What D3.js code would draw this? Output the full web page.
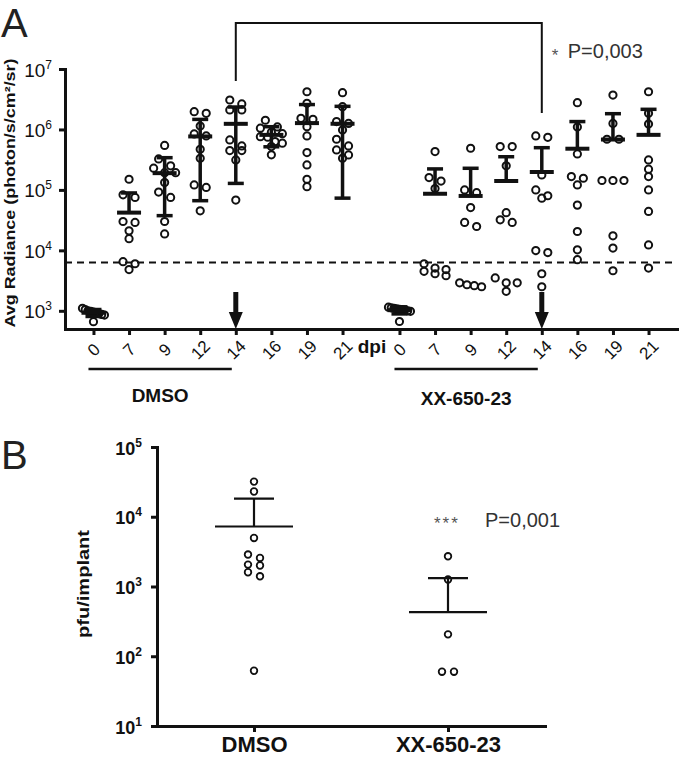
<!DOCTYPE html>
<html>
<head>
<meta charset="utf-8">
<script src="https://cdn.jsdelivr.net/npm/d3@7"></script>
<style>
  body { margin: 0; background: #fff; }
  svg { display: block; font-family: "Liberation Sans", Arial, sans-serif; }
</style>
</head>
<body>
<div id="chart"></div>
<script>
// ---- data ----
var days = ["0", "7", "9", "12", "14", "16", "19", "21"];

// panel A, avg radiance per mouse, photon/s/cm2/sr
var dmsoRadiance = [
  [1000, 1050, 950, 900, 850, 1100, 980, 920, 870, 660],
  [150000, 83000, 75000, 29000, 30000, 21000, 15600, 6500, 6000, 4800],
  [545000, 325000, 250000, 229000, 193000, 193000, 132000, 92000, 75000, 30000, 18700],
  [1970000, 1850000, 1140000, 843000, 781000, 470000, 334000, 121000, 110000, 45000],
  [3070000, 2640000, 2100000, 2100000, 670000, 533000, 447000, 447000, 313000, 68000],
  [1420000, 1100000, 1050000, 900000, 850000, 760000, 743000, 630000, 592000, 520000, 380000],
  [4200000, 2710000, 1530000, 1470000, 1110000, 781000, 414000, 259000, 150000, 113000],
  [4060000, 2380000, 1350000, 1260000, 982000, 689000, 533000, 458000, 379000, 334000]
];
var xxRadiance = [
  [1100, 1150, 1050, 1000, 1080, 1120, 980, 1040, 1060, 665],
  [430000, 160000, 140000, 105000, 6000, 5100, 4800, 4500, 4100, 3800],
  [489000, 100000, 90000, 51000, 29000, 24800, 2900, 2700, 2600, 2500],
  [520000, 520000, 250000, 42000, 32000, 29000, 3500, 2900, 2900, 2100],
  [780000, 740000, 177000, 100000, 80000, 73000, 9900, 9200, 4100, 2500],
  [2770000, 1100000, 394000, 166000, 156000, 121000, 56000, 20500, 10200, 7000],
  [3710000, 1260000, 689000, 689000, 143000, 143000, 143000, 17400, 10900, 4600],
  [4200000, 1850000, 1230000, 313000, 220000, 166000, 100000, 44000, 12300, 5100]
];
var detectionLimit = 6300;
var treatDay = "14";

// panel B, pfu per implant (zeros are not drawn on the log axis)
var groupsB = ["DMSO", "XX-650-23"];
var pfuDmso = [31900, 23000, 4970, 2870, 2570, 2060, 2000, 1600, 1400, 62];
var pfuXX = [2710, 1260, 206, 60, 60, 0, 0, 0, 0, 0];

var decadesA = [1e3, 1e4, 1e5, 1e6, 1e7];
var decadesB = [1e1, 1e2, 1e3, 1e4, 1e5];

// ---- setup ----
var width = 680, height = 759;
var ink = "#111";

var svg = d3.select("#chart").append("svg")
  .attr("width", width)
  .attr("height", height);

// spread points that sit at about the same height into centred rows
function swarm(values, y, spacing, maxHalf, tol) {
  var pts = values.filter(v => v > 0)
    .map(v => ({v: v, y: y(v)}))
    .sort((a, b) => a.y - b.y);
  var rows = [];
  pts.forEach(p => {
    var r = rows[rows.length - 1];
    if (r && p.y - r[0].y < tol) r.push(p);
    else rows.push([p]);
  });
  rows.forEach(r => {
    var n = r.length;
    var s = n > 1 ? Math.min(spacing, 2 * maxHalf / (n - 1)) : 0;
    r.forEach((p, k) => p.dx = (k - (n - 1) / 2) * s);
  });
  return pts;
}

function powLabel(sel, size, supSize, bold) {
  sel.each(function(d) {
    var t = d3.select(this).text(null)
      .attr("font-size", size)
      .attr("font-weight", bold ? "bold" : "normal")
      .attr("fill", ink);
    t.append("tspan").text("10");
    t.append("tspan").attr("dy", -8).attr("font-size", supSize).text(Math.round(Math.log10(d)));
  });
}

// ================= panel A =================
var yA = d3.scaleLog().domain([500, 1e7]).range([329, 69]);
var xA = d3.scaleLinear().domain([-0.8, 16.4]).range([65, 677]);
var gapSlot = 8.6;

var columns = [];
days.forEach((d, i) => columns.push({day: d, slot: i, values: dmsoRadiance[i]}));
days.forEach((d, i) => columns.push({day: d, slot: gapSlot + i, values: xxRadiance[i]}));

var A = svg.append("g");

// y axis
var yAxisA = A.append("g")
  .attr("transform", "translate(65,0)")
  .call(d3.axisLeft(yA).tickValues(decadesA).tickSize(6).tickSizeOuter(0).tickPadding(7));
yAxisA.selectAll(".tick text")
  .attr("dy", 7)
  .call(powLabel, 19, 12, false);

// x axis
var xAxisA = A.append("g")
  .attr("transform", "translate(0,329)")
  .call(d3.axisBottom(xA).tickValues(columns.map(c => c.slot)).tickSize(6).tickSizeOuter(0)
    .tickFormat((d, i) => columns[i].day));
xAxisA.selectAll(".tick text")
  .attr("y", 0).attr("dy", null)
  .attr("font-size", 17)
  .attr("fill", ink)
  .attr("text-anchor", "middle")
  .attr("dominant-baseline", "central")
  .attr("transform", "translate(0,21) rotate(-45)");

[yAxisA, xAxisA].forEach(g => {
  g.select(".domain").attr("stroke", ink).attr("stroke-width", 3).attr("stroke-linecap", "square");
  g.selectAll(".tick line").attr("stroke", ink).attr("stroke-width", 3);
});

// detection limit
A.append("line")
  .attr("x1", 65).attr("x2", 677)
  .attr("y1", yA(detectionLimit)).attr("y2", yA(detectionLimit))
  .attr("stroke", ink).attr("stroke-width", 2)
  .attr("stroke-dasharray", "7,5");

// points
columns.forEach(c => {
  var cx = xA(c.slot);
  A.append("g").selectAll("circle")
    .data(swarm(c.values, yA, 12, 11, 7))
    .join("circle")
    .attr("cx", p => cx + p.dx)
    .attr("cy", p => p.y)
    .attr("r", 3.6)
    .attr("fill", "none")
    .attr("stroke", ink)
    .attr("stroke-width", 2);
});

// mean +- SD
function meanSD(g, cx, values, y, meanHalf, capHalf, sw, capSw) {
  var m = d3.mean(values), sd = d3.deviation(values);
  var top = y(m + sd);
  g.append("line").attr("x1", cx).attr("x2", cx).attr("y1", y(m)).attr("y2", top)
    .attr("stroke", ink).attr("stroke-width", capSw);
  g.append("line").attr("x1", cx - capHalf).attr("x2", cx + capHalf).attr("y1", top).attr("y2", top)
    .attr("stroke", ink).attr("stroke-width", capSw);
  if (m - sd > 0) {
    var bot = y(m - sd);
    g.append("line").attr("x1", cx).attr("x2", cx).attr("y1", y(m)).attr("y2", bot)
      .attr("stroke", ink).attr("stroke-width", capSw);
    g.append("line").attr("x1", cx - capHalf).attr("x2", cx + capHalf).attr("y1", bot).attr("y2", bot)
      .attr("stroke", ink).attr("stroke-width", capSw);
  }
  g.append("line").attr("x1", cx - meanHalf).attr("x2", cx + meanHalf).attr("y1", y(m)).attr("y2", y(m))
    .attr("stroke", ink).attr("stroke-width", sw);
}
columns.forEach(c => meanSD(A, xA(c.slot), c.values, yA, 12, 8, 4, 3.5));

// treatment arrows
[days.indexOf(treatDay), gapSlot + days.indexOf(treatDay)].forEach(s => {
  var ax = xA(s);
  A.append("line").attr("x1", ax).attr("x2", ax).attr("y1", 292).attr("y2", 314)
    .attr("stroke", ink).attr("stroke-width", 5);
  A.append("path")
    .attr("d", `M${ax - 7},312 L${ax + 7},312 L${ax},329 Z`)
    .attr("fill", ink);
});

// significance bracket
var bx1 = xA(days.indexOf(treatDay)), bx2 = xA(gapSlot + days.indexOf(treatDay));
A.append("path")
  .attr("d", `M${bx1},81 V23 H${bx2} V113`)
  .attr("fill", "none").attr("stroke", ink).attr("stroke-width", 2);
A.append("text").attr("x", bx2 + 10).attr("y", 61)
  .attr("font-size", 17).attr("fill", "#555").text("*");
A.append("text").attr("x", bx2 + 26).attr("y", 58)
  .attr("font-size", 20).attr("fill", "#333").text("P=0,003");

// dpi + group labels
A.append("text").attr("x", (xA(7) + xA(gapSlot)) / 2 + 1).attr("y", 353)
  .attr("text-anchor", "middle").attr("font-size", 19).attr("font-weight", "bold")
  .attr("fill", ink).text("dpi");

[["DMSO", 0, 402], ["XX-650-23", gapSlot, 405]].forEach(g => {
  var x0 = xA(g[1]) - 5, x1 = xA(g[1] + 4) - 4;
  A.append("line").attr("x1", x0).attr("x2", x1).attr("y1", 369).attr("y2", 369)
    .attr("stroke", ink).attr("stroke-width", 2.5);
  A.append("text").attr("x", (x0 + x1) / 2).attr("y", g[2])
    .attr("text-anchor", "middle").attr("font-size", 19).attr("font-weight", "bold")
    .attr("fill", ink).text(g[0]);
});

// y title
A.append("text")
  .attr("transform", "translate(15,193) rotate(-90)")
  .attr("text-anchor", "middle")
  .attr("font-size", 15).attr("font-weight", "bold").attr("fill", ink)
  .attr("textLength", 269).attr("lengthAdjust", "spacingAndGlyphs")
  .text("Avg Radiance (photon/s/cm²/sr)");

svg.append("text").attr("x", 1).attr("y", 37)
  .attr("font-size", 40).attr("fill", "#222").text("A");

// ================= panel B =================
var yB = d3.scaleLog().domain([10, 1e5]).range([726, 447]);
var xB = d3.scalePoint().domain(groupsB).range([157, 545]).padding(0.5);
var B = svg.append("g");

var yAxisB = B.append("g")
  .attr("transform", "translate(157,0)")
  .call(d3.axisLeft(yB).tickValues(decadesB).tickSize(6).tickSizeOuter(0).tickPadding(9));
yAxisB.selectAll(".tick text")
  .attr("dy", 7)
  .call(powLabel, 18, 12, true);

var xAxisB = B.append("g")
  .attr("transform", "translate(0,726)")
  .call(d3.axisBottom(xB).tickSize(6).tickSizeOuter(0).tickPadding(4));
xAxisB.selectAll(".tick text")
  .attr("font-size", 22).attr("font-weight", "bold").attr("fill", ink);

[yAxisB, xAxisB].forEach(g => {
  g.select(".domain").attr("stroke", ink).attr("stroke-width", 3).attr("stroke-linecap", "square");
  g.selectAll(".tick line").attr("stroke", ink).attr("stroke-width", 3);
});

[pfuDmso, pfuXX].forEach((vals, i) => {
  var cx = xB(groupsB[i]);
  B.append("g").selectAll("circle")
    .data(swarm(vals, yB, 12, 18, 6))
    .join("circle")
    .attr("cx", p => cx + p.dx)
    .attr("cy", p => p.y)
    .attr("r", 3.3)
    .attr("fill", "none")
    .attr("stroke", ink)
    .attr("stroke-width", 1.8);
  meanSD(B, cx, vals, yB, 39, 20, 2.2, 2.2);
});

B.append("text").attr("x", 434).attr("y", 529)
  .attr("font-size", 17).attr("fill", "#555").attr("letter-spacing", 2).text("***");
B.append("text").attr("x", 485).attr("y", 527)
  .attr("font-size", 20).attr("fill", "#333").text("P=0,001");

B.append("text")
  .attr("transform", "translate(89,584) rotate(-90)")
  .attr("text-anchor", "middle")
  .attr("font-size", 17).attr("font-weight", "bold").attr("fill", ink)
  .attr("textLength", 108).attr("lengthAdjust", "spacingAndGlyphs")
  .text("pfu/implant");

svg.append("text").attr("x", 1).attr("y", 469)
  .attr("font-size", 40).attr("fill", "#222").text("B");
</script>
</body>
</html>
